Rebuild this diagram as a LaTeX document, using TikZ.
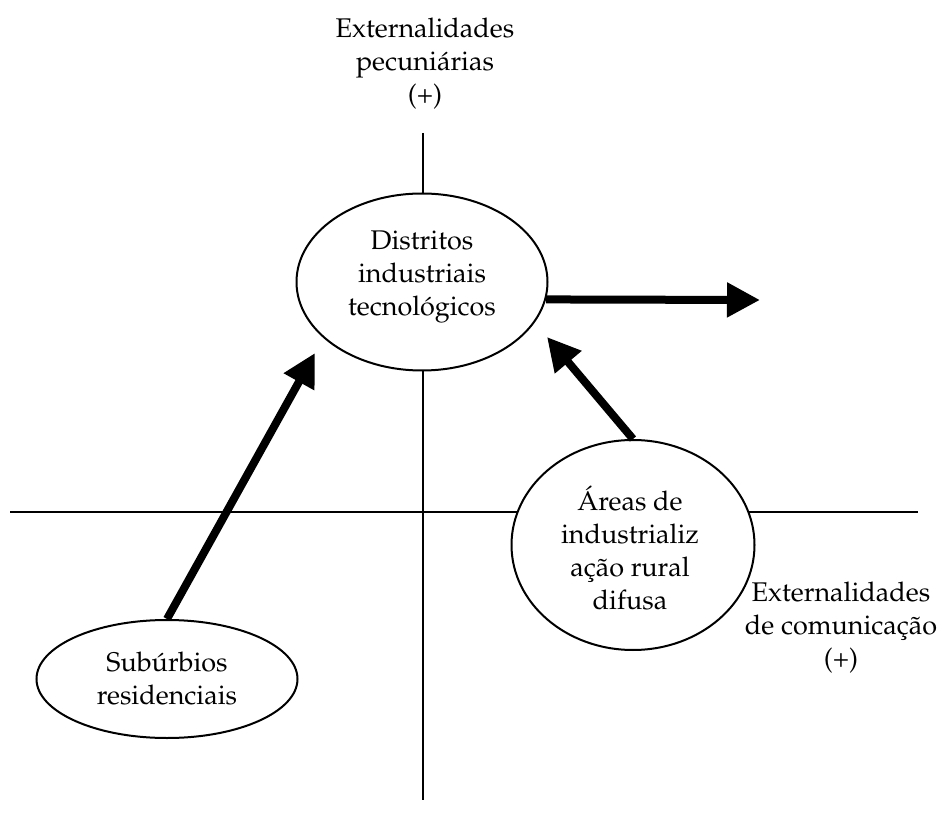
\documentclass[tikz,border=0pt]{standalone}
\usepackage[T1]{fontenc}
\usepackage{mathpazo}
\usetikzlibrary{shapes.geometric,arrows.meta}
\begin{document}
\begin{tikzpicture}[x=1pt,y=-1pt, font=\fontsize{27}{33}\selectfont,
 ell/.style={draw, line width=2pt, fill=white, ellipse, inner sep=0pt},
 axisline/.style={line width=1.5pt},
 bigarrow/.style={line width=8pt, -{Triangle[length=33pt,width=33pt]}},
 lbl/.style={align=center, inner sep=0pt}]
\useasboundingbox (0,0) rectangle (943,826);
% axes
\coordinate (vtop) at (423,133);
\coordinate (vbot) at (423,800);
\coordinate (hl) at (10,512);
\coordinate (hr) at (918,512);
\draw[axisline] (vtop) -- (vbot);
\draw[axisline] (hl) -- (hr);
% ellipses
\node[ell, minimum width=251pt, minimum height=177pt] (top) at (422,282) {};
\node[ell, minimum width=243pt, minimum height=210pt] (areas) at (633,545) {};
\node[ell, minimum width=261pt, minimum height=118pt] (sub) at (167,679) {};
% texts
\node[lbl] (toptxt) at (422,277) {Distritos\\industriais\\tecnol\'ogicos};
\node[lbl] (areastxt) at (630,548) {\'Areas de\\industrializ\\a\c{c}\~ao rural\\difusa};
\node[lbl] (subtxt) at (167,679) {Sub\'urbios\\residenciais};
\node[lbl] (pec) at (425,64) {Externalidades\\pecuni\'arias\\(+)};
\node[lbl] (com) at (841,628) {Externalidades\\de comunica\c{c}\~ao\\(+)};
% arrows
\coordinate (t1) at (315,353);
\coordinate (t2) at (547,337);
\coordinate (t3) at (760,300);
\draw[bigarrow] (sub.north) -- (t1);
\draw[bigarrow] (areas.north) -- (t2);
\draw[bigarrow] (top.-8.3) -- (t3);
\end{tikzpicture}
\end{document}
